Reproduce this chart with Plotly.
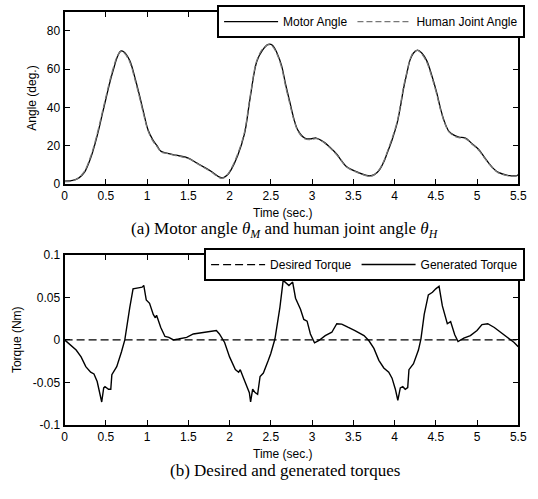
import plotly.graph_objects as go

# ---------------- data ----------------
t_angle = [0, 0.1, 0.17, 0.24, 0.32, 0.40, 0.46, 0.52, 0.56, 0.60, 0.64, 0.68, 0.72, 0.79, 0.85,
           0.91, 0.96, 1.01, 1.07, 1.12, 1.17, 1.25, 1.35, 1.50, 1.60, 1.70, 1.78, 1.88, 1.92, 1.97,
           2.02, 2.10, 2.18, 2.25, 2.33, 2.40, 2.47, 2.52, 2.58, 2.63, 2.68, 2.73, 2.78, 2.83, 2.91,
           2.98, 3.05, 3.14, 3.22, 3.30, 3.36, 3.42, 3.56, 3.70, 3.76, 3.82, 3.87, 3.91, 3.97, 4.03,
           4.07, 4.11, 4.15, 4.19, 4.23, 4.28, 4.33, 4.39, 4.45, 4.51, 4.56, 4.61, 4.66, 4.72, 4.78,
           4.86, 4.94, 5.02, 5.08, 5.14, 5.20, 5.26, 5.37, 5.47, 5.5]
motor_angle = [1.5, 1.8, 3, 6, 14, 26, 37, 48, 55, 61, 66.5, 69.5, 69, 64.5, 56,
               46, 37, 28.5, 23, 20, 17, 16, 15, 13.5, 11, 8.5, 6.5, 3.5, 3.2, 4.5,
               7.5, 15, 26, 45, 64, 70, 73, 72.5, 68, 62, 52, 43, 34, 28, 24,
               23.5, 24, 22, 19, 15.5, 12, 9, 6, 4.2, 5, 7.5, 11.5, 16, 23, 31.5,
               40, 50, 58, 65, 68.5, 70, 68.5, 64.5, 57, 48, 39, 32, 27.5, 25.5, 24.5,
               24, 21, 18, 14.5, 11, 8, 6, 4.5, 4.2, 4.8]
human_angle = [1.2, 1.6, 3.2, 6.5, 14.8, 27, 38, 49, 56, 62, 67, 69.2, 68.6, 63.8, 55,
               45, 36, 28, 22.5, 19.6, 16.8, 15.8, 14.8, 13.3, 10.8, 8.3, 6.2, 3.2, 3.0, 4.6,
               8, 15.8, 27, 46, 64.5, 70.5, 72.8, 72, 67.4, 61, 51, 42, 33.5, 27.5, 23.6,
               23.2, 23.7, 21.8, 18.8, 15.2, 11.8, 8.8, 5.8, 4.0, 5.0, 7.8, 12, 16.5, 23.8, 32.2,
               41, 51, 58.6, 65.4, 68.8, 69.8, 68, 63.8, 56.2, 47.2, 38.4, 31.6, 27.2, 25.2, 24.2,
               23.7, 20.8, 17.7, 14.2, 10.8, 7.8, 5.8, 4.3, 4.0, 4.6]

t_torque = [0, 0.07, 0.14, 0.20, 0.257, 0.316, 0.356, 0.395, 0.427, 0.45, 0.474, 0.49, 0.533, 0.56,
            0.573, 0.632, 0.69, 0.73, 0.79, 0.83, 0.91, 0.94, 0.96, 0.99, 1.03, 1.075, 1.10, 1.115,
            1.166, 1.217, 1.264, 1.32, 1.38, 1.48, 1.56, 1.72, 1.84, 1.877, 1.94, 2.0, 2.07, 2.11,
            2.13, 2.17, 2.21, 2.24, 2.255, 2.28, 2.31, 2.34, 2.37, 2.41, 2.47, 2.50, 2.55, 2.61,
            2.65, 2.69, 2.72, 2.765, 2.80, 2.86, 2.90, 2.94, 2.98, 3.03, 3.08, 3.16, 3.24, 3.30,
            3.36, 3.44, 3.52, 3.63, 3.69, 3.75, 3.81, 3.87, 3.93, 3.97, 4.01, 4.04, 4.07, 4.10,
            4.13, 4.16, 4.175, 4.23, 4.29, 4.32, 4.36, 4.41, 4.46, 4.50, 4.54, 4.58, 4.64, 4.68,
            4.73, 4.77, 4.84, 4.92, 5.00, 5.06, 5.13, 5.21, 5.31, 5.39, 5.45, 5.5]
generated_torque = [0, -0.006, -0.012, -0.020, -0.0315, -0.038, -0.040, -0.049, -0.062, -0.073,
                    -0.0565, -0.055, -0.058, -0.058, -0.041, -0.0315, -0.014, 0, 0.038, 0.060,
                    0.0615, 0.062, 0.064, 0.047, 0.043, 0.030, 0.026, 0.029, 0.0146, 0.004, 0.003,
                    0.0, 0.001, 0.003, 0.007, 0.009, 0.011, 0.007, -0.003, -0.020, -0.035, -0.038,
                    -0.035, -0.045, -0.055, -0.062, -0.073, -0.058, -0.062, -0.064, -0.043, -0.039,
                    -0.024, -0.016, 0.001, 0.038, 0.070, 0.067, 0.064, 0.068, 0.049, 0.036, 0.024,
                    0.022, 0.007, -0.0035, -0.001, 0.005, 0.009, 0.019, 0.0185, 0.0146, 0.011, 0.005,
                    -0.001, -0.010, -0.024, -0.033, -0.038, -0.045, -0.058, -0.071, -0.0565, -0.055,
                    -0.058, -0.056, -0.035, -0.028, -0.012, 0.001, 0.030, 0.053, 0.056, 0.060, 0.063,
                    0.040, 0.019, 0.0215, 0.006, -0.002, 0.002, 0.005, 0.011, 0.018, 0.019, 0.0146,
                    0.007, 0.001, -0.003, -0.008]
t_desired = [0, 5.5]
desired_torque = [0, 0]

x_ticks = [0, 0.5, 1, 1.5, 2, 2.5, 3, 3.5, 4, 4.5, 5, 5.5]
x_ticktext = ["0", "0.5", "1", "1.5", "2", "2.5", "3", "3.5", "4", "4.5", "5", "5.5"]
angle_ticks = [0, 20, 40, 60, 80]
torque_ticks = [-0.1, -0.05, 0, 0.05, 0.1]
torque_ticktext = ["-0.1", "-0.05", "0", "0.05", "0.1"]

# ---------------- figure ----------------
W, H = 538, 499
FONT = "Liberation Sans, Arial, sans-serif"
SERIF = "Liberation Serif, Times New Roman, serif"

fig = go.Figure()
fig.add_trace(go.Scatter(x=t_angle, y=motor_angle, mode="lines", name="Motor Angle",
                         line=dict(color="black", width=1.3, shape="spline"),
                         xaxis="x", yaxis="y", legend="legend"))
fig.add_trace(go.Scatter(x=t_angle, y=human_angle, mode="lines", name="Human Joint Angle",
                         line=dict(color="#777777", width=1.3, dash="6px,3px", shape="spline"),
                         xaxis="x", yaxis="y", legend="legend"))
fig.add_trace(go.Scatter(x=t_desired, y=desired_torque, mode="lines", name="Desired Torque",
                         line=dict(color="black", width=1.2, dash="8px,4px"),
                         xaxis="x2", yaxis="y2", legend="legend2"))
fig.add_trace(go.Scatter(x=t_torque, y=generated_torque, mode="lines", name="Generated Torque",
                         line=dict(color="black", width=1.4),
                         xaxis="x2", yaxis="y2", legend="legend2"))

xd = [63 / W, 527 / W]
axis_common = dict(showline=True, linecolor="black", linewidth=2, mirror="ticks",
                   ticks="inside", ticklen=5, tickwidth=1, tickcolor="black",
                   showgrid=False, zeroline=False,
                   tickfont=dict(family=FONT, size=12, color="black"))

leg_common = dict(orientation="h", xanchor="right", yanchor="top",
                  bgcolor="white", bordercolor="black", borderwidth=2,
                  font=dict(family=FONT, size=12, color="black"), itemwidth=54,
                  tracegroupgap=0)

fig.update_layout(
    width=W, height=H, margin=dict(l=0, r=0, t=0, b=0),
    paper_bgcolor="white", plot_bgcolor="white",
    xaxis=dict(domain=xd, range=[0, 5.5], tickvals=x_ticks, ticktext=x_ticktext,
               anchor="y", **axis_common),
    yaxis=dict(domain=[1 - 182 / H, 1 - 5 / H], range=[0, 90], tickvals=angle_ticks,
               anchor="x", **axis_common),
    xaxis2=dict(domain=xd, range=[0, 5.5], tickvals=x_ticks, ticktext=x_ticktext,
                anchor="y2", **axis_common),
    yaxis2=dict(domain=[1 - 430 / H, 1 - 255 / H], range=[-0.1, 0.1], tickvals=torque_ticks,
                ticktext=torque_ticktext, anchor="x2", **axis_common),
    legend=dict(x=534 / W, y=1 + 2 / H, **leg_common),
    legend2=dict(x=534 / W, y=1 - 248 / H, **leg_common),
    showlegend=True,
)

ann = []
def add_text(text, xpx, ypx, size, family, angle=0):
    ann.append(dict(text=text, x=xpx / W, y=1 - ypx / H, xref="paper", yref="paper",
                    showarrow=False, xanchor="center", yanchor="middle", textangle=angle,
                    font=dict(family=family, size=size, color="black")))

add_text("Time (sec.)", 286, 212, 12, FONT)
add_text("Time (sec.)", 286, 460, 12, FONT)
add_text("Angle (deg.)", 30, 94, 12, FONT, angle=-90)
add_text("Torque (Nm)", 15, 342, 12, FONT, angle=-90)
add_text("(a) Motor angle <i>θ<sub>M</sub></i> and human joint angle <i>θ<sub>H</sub></i>",
         288, 229, 17, SERIF)
add_text("(b) Desired and generated torques", 288, 477, 17, SERIF)
fig.update_layout(annotations=ann)

fig.write_html("out.html")
